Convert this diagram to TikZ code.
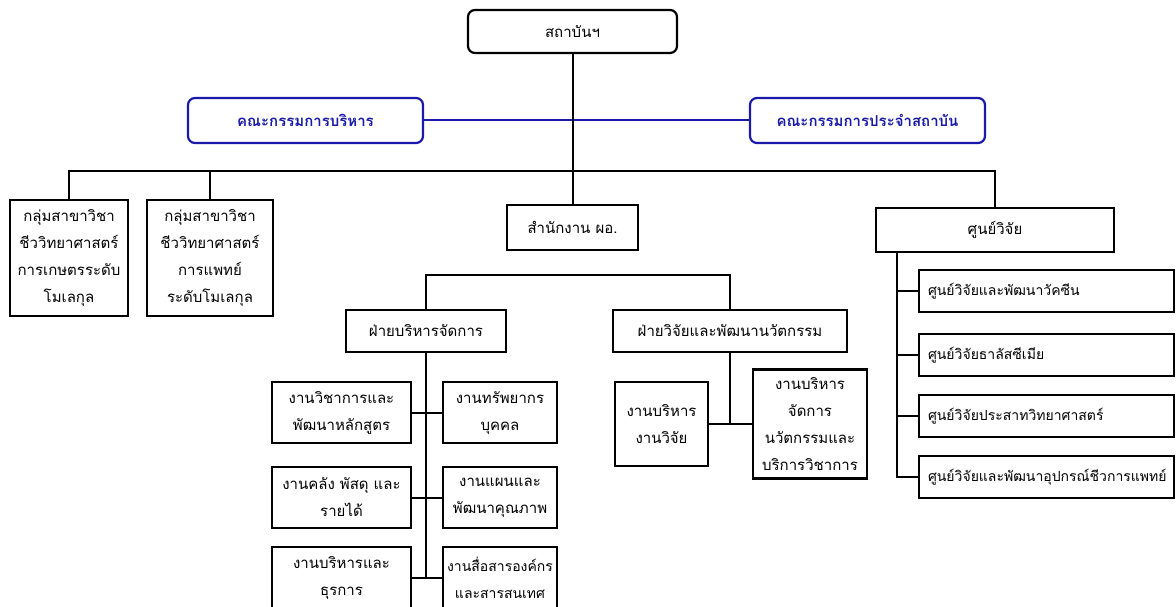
\documentclass[tikz,border=0pt]{standalone}
\usepackage{fontspec}
\newfontfamily\thaifont[Script=Thai]{Loma}
\definecolor{boardblue}{RGB}{25,25,170}
\tikzset{
	box/.style={draw, line width=2.2pt, inner sep=0pt, align=center, font=\thaifont\fontsize{15}{27}\selectfont},
	rbox/.style={box, rounded corners=7pt},
	bbox/.style={rbox, draw=boardblue, text=boardblue, font=\thaifont\bfseries\fontsize{15}{27}\selectfont},
	lbox/.style={box, align=left, text width=237pt, inner xsep=9pt, minimum height=42pt, font=\thaifont\fontsize{14}{27}\selectfont},
	link/.style={line width=2pt}
}
\begin{document}
\begin{tikzpicture}[x=1pt, y=-1pt]
			\useasboundingbox (0,0) rectangle (1176,607);

			\node[rbox, minimum width=209pt, minimum height=43pt] (s0) at (572.5, 31.5) {สถาบันฯ};
			\node[bbox, minimum width=235pt, minimum height=45pt] (b1) at (305.5, 120.5) {คณะกรรมการบริหาร};
			\node[bbox, minimum width=235pt, minimum height=45pt] (b2) at (867.5, 120.5) {คณะกรรมการประจำสถาบัน};

			\node[box, minimum width=118pt, minimum height=116pt] (g1) at (69, 258) {กลุ่มสาขาวิชา\\ชีววิทยาศาสตร์\\การเกษตรระดับ\\โมเลกุล};
			\node[box, minimum width=126pt, minimum height=116pt] (g2) at (210, 258) {กลุ่มสาขาวิชา\\ชีววิทยาศาสตร์\\การแพทย์\\ระดับโมเลกุล};
			\node[box, minimum width=131pt, minimum height=45pt] (d0) at (572.5, 227.5) {สำนักงาน ผอ.};
			\node[box, minimum width=238pt, minimum height=44pt] (c0) at (995, 230) {ศูนย์วิจัย};

			\node[box, minimum width=160pt, minimum height=42pt] (m1) at (426, 331) {ฝ่ายบริหารจัดการ};
			\node[box, minimum width=234pt, minimum height=42pt] (m2) at (730, 331) {ฝ่ายวิจัยและพัฒนานวัตกรรม};

			\node[box, minimum width=139pt, minimum height=61pt] (a1) at (341.5, 412.5) {งานวิชาการและ\\พัฒนาหลักสูตร};
			\node[box, minimum width=114pt, minimum height=61pt] (a2) at (500, 412.5) {งานทรัพยากร\\บุคคล};
			\node[box, minimum width=139pt, minimum height=61pt] (a3) at (341.5, 497.5) {งานคลัง พัสดุ และ\\รายได้};
			\node[box, minimum width=114pt, minimum height=61pt] (a4) at (500, 497.5) {งานแผนและ\\พัฒนาคุณภาพ};
			\node[box, minimum width=139pt, minimum height=61pt] (a5) at (341.5, 577.5) {งานบริหารและ\\ธุรการ};
			\node[box, minimum width=114pt, minimum height=61pt, font=\thaifont\fontsize{14}{27}\selectfont] (a6) at (500, 577.5) {งานสื่อสารองค์กร\\และสารสนเทศ};

			\node[box, minimum width=93pt, minimum height=84pt] (r1) at (661.5, 424) {งานบริหาร\\งานวิจัย};
			\node[box, minimum width=114pt, minimum height=109pt] (r2) at (810, 424) {งานบริหาร\\จัดการ\\นวัตกรรมและ\\บริการวิชาการ};

			\node[lbox] (c1) at (1046.5, 291) {ศูนย์วิจัยและพัฒนาวัคซีน};
			\node[lbox] (c2) at (1046.5, 355) {ศูนย์วิจัยธาลัสซีเมีย};
			\node[lbox] (c3) at (1046.5, 416) {ศูนย์วิจัยประสาทวิทยาศาสตร์};
			\node[lbox] (c4) at (1046.5, 477) {ศูนย์วิจัยและพัฒนาอุปกรณ์ชีวการแพทย์};

			\coordinate (j0) at (572.5, 171);
			\coordinate (j1) at (572.5, 275);
			\coordinate (k0) at (897, 252);

			\draw[link, color=boardblue] (b1) -- (b2);
			\draw[link, color=black] (s0) -- (d0);
			\draw[link, color=black] (g1.north) |- (j0) -| (c0.north);
			\draw[link, color=black] (g2.north) -- (g2.north |- j0);
			\draw[link, color=black] (m1.north) |- (j1) -| (m2.north);

			\draw[link, color=black] (m1.south) -- (m1.south |- a5.east);
			\draw[link, color=black] (a1) -- (a2);
			\draw[link, color=black] (a3) -- (a4);
			\draw[link, color=black] (a5) -- (a6);

			\draw[link, color=black] (m2.south) -- (m2.south |- r1.east);
			\draw[link, color=black] (r1) -- (r2);

			\draw[link, color=black] (k0) |- (c4.west);
			\draw[link, color=black] (k0 |- c1.west) -- (c1.west);
			\draw[link, color=black] (k0 |- c2.west) -- (c2.west);
			\draw[link, color=black] (k0 |- c3.west) -- (c3.west);
		\end{tikzpicture}
\end{document}
